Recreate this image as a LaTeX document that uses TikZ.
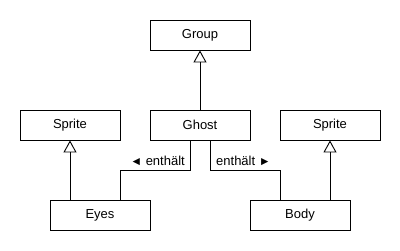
\documentclass[tikz,border=0pt]{standalone}
\usepackage{fontspec}
\setmainfont{Liberation Sans}
\usetikzlibrary{arrows.meta}
\begin{document}
\begin{tikzpicture}[x=1pt,y=-1pt,
  cls/.style={draw,line width=0.9pt,minimum width=100pt,minimum height=30pt,inner sep=0pt,font=\fontsize{13}{15}\selectfont},
  inh/.style={line width=0.9pt,-{Triangle[open,length=12pt,width=13pt]}},
  assoc/.style={line width=0.9pt},
  lbl/.style={font=\fontsize{13}{15}\selectfont,inner sep=1pt}]
\useasboundingbox (0,0) rectangle (400,250);
\node[cls] (group) at (200,35) {Group};
\node[cls] (ghost) at (200,125) {Ghost};
\node[cls] (spriteL) at (70,125) {Sprite};
\node[cls] (spriteR) at (330,125) {Sprite};
\node[cls] (eyes) at (100,215) {Eyes};
\node[cls] (body) at (300,215) {Body};
\draw[inh] (ghost.north) -- (group.south);
\draw[inh] (eyes.north -| spriteL.south) -- (spriteL.south);
\draw[inh] (body.north -| spriteR.south) -- (spriteR.south);
\coordinate (e1) at (120,170);
\coordinate (e2) at (190,170);
\coordinate (b1) at (210,170);
\coordinate (b2) at (280,170);
\draw[assoc] (eyes.north -| e1) -- (e1) -- (e2) -- (e2 |- ghost.south);
\draw[assoc] (b1 |- ghost.south) -- (b1) -- (b2) -- (b2 |- body.north);
\node[lbl,anchor=south east] (l1) at (186,167) {{\fontsize{12}{14}\selectfont ◄} enthält};
\node[lbl,anchor=south west] (l2) at (215,167) {enthält {\fontsize{12}{14}\selectfont ►}};
\end{tikzpicture}
\end{document}
